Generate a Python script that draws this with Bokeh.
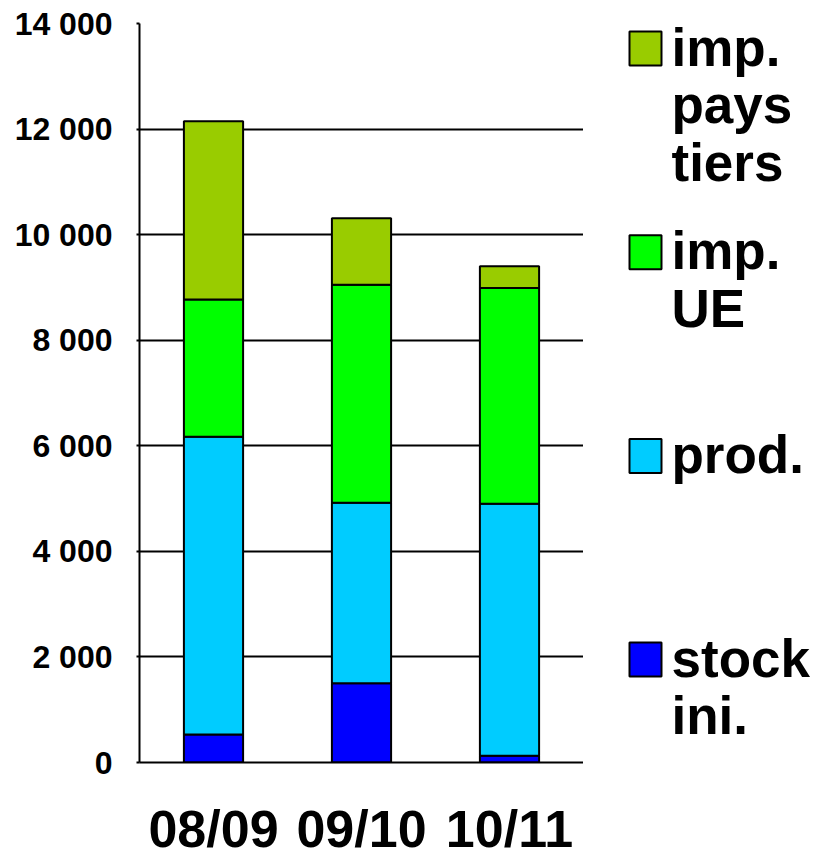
from bokeh.plotting import figure
from bokeh.layouts import row
from bokeh.models import ColumnDataSource, FixedTicker, FactorRange, Range1d
from bokeh.embed import file_html
from bokeh.resources import INLINE

# ---- data ----
seasons = ["08/09", "09/10", "10/11"]
stock_ini = [530, 1500, 130]
prod = [5640, 3420, 4770]
imp_ue = [2600, 4130, 4090]
imp_pays_tiers = [3380, 1260, 410]

series = ["stock_ini", "prod", "imp_ue", "imp_pays_tiers"]
series_labels = ["stock\nini.", "prod.", "imp.\nUE", "imp.\npays\ntiers"]
colors = ["#0000FF", "#00CCFF", "#00FF00", "#99CC00"]
y_ticks = [0, 2000, 4000, 6000, 8000, 10000, 12000, 14000]

FONT = "Liberation Sans"

# ---- layout (pixels) ----
LEFT, TOP, FW, FH = 139, 23, 444, 739

source = ColumnDataSource(dict(season=seasons, stock_ini=stock_ini, prod=prod,
                               imp_ue=imp_ue, imp_pays_tiers=imp_pays_tiers))

p = figure(x_range=FactorRange(*seasons, range_padding=0),
           y_range=Range1d(0, 14000),
           frame_width=FW, frame_height=FH,
           min_border_left=LEFT, min_border_top=TOP, min_border_bottom=0,
           min_border_right=0,
           output_backend="svg", toolbar_location=None,
           background_fill_color="white", border_fill_color="white")
p.outline_line_color = None

p.vbar_stack(series, x="season", width=0.4, source=source,
             fill_color=colors, line_color="black", line_width=2)

# axes
p.yaxis.ticker = FixedTicker(ticks=y_ticks)
p.yaxis.major_label_overrides = {t: f"{t:,}".replace(",", " ") for t in y_ticks}
p.yaxis.major_label_text_font = FONT
p.yaxis.major_label_text_font_style = "bold"
p.yaxis.major_label_text_font_size = "32px"
p.yaxis.major_label_text_color = "black"
p.yaxis.major_label_standoff = 24
p.yaxis.major_tick_out = 3
p.yaxis.major_tick_in = 0
p.yaxis.minor_tick_line_color = None
p.yaxis.axis_line_width = 2
p.yaxis.axis_line_color = "black"
p.yaxis.major_tick_line_width = 2

p.xaxis.major_label_text_font = FONT
p.xaxis.major_label_text_font_style = "bold"
p.xaxis.major_label_text_font_size = "52px"
p.xaxis.major_label_text_color = "black"
p.xaxis.major_label_standoff = 37
p.xaxis.major_tick_line_color = None
p.xaxis.major_tick_out = 0
p.xaxis.axis_line_width = 2
p.xaxis.axis_line_color = "black"

p.xgrid.grid_line_color = None
p.ygrid.grid_line_color = "black"
p.ygrid.grid_line_width = 2

# ---- legend panel, in page-pixel coordinates (order reversed vs stacking) ----
LW = 236
X0 = LEFT + FW
leg_labels = series_labels[::-1]
leg_colors = colors[::-1]
n = len(leg_labels)
top0, step, sq_w, sq_h = 31, 203.7, 32, 34
sq_left, txt_left, ascent = 629, 671, 48
tops = [top0 + i * step for i in range(n)]
leg_src = ColumnDataSource(dict(
    x=[sq_left + sq_w / 2] * n,
    y=[t + sq_h / 2 for t in tops],
    tx=[txt_left] * n,
    ty=[t + sq_h - ascent for t in tops],
    label=leg_labels, color=leg_colors))

lg = figure(frame_width=LW, frame_height=FH,
            x_range=Range1d(X0, X0 + LW), y_range=Range1d(TOP + FH, TOP),
            min_border_left=0, min_border_right=0, min_border_top=TOP,
            min_border_bottom=0,
            output_backend="svg", toolbar_location=None,
            background_fill_color="white", border_fill_color="white")
lg.outline_line_color = None
lg.axis.visible = False
lg.grid.visible = False
lg.rect(x="x", y="y", width=sq_w, height=sq_h, width_units="screen",
        height_units="screen", fill_color="color", line_color="black",
        line_width=2, source=leg_src)
lg.text(x="tx", y="ty", text="label", source=leg_src,
        text_font={"value": FONT}, text_font_style="bold",
        text_font_size="53px", text_color="black", text_baseline="top",
        text_align="left", text_line_height=0.98)

layout = row(p, lg)
open("out.html", "w").write(file_html(layout, INLINE))
